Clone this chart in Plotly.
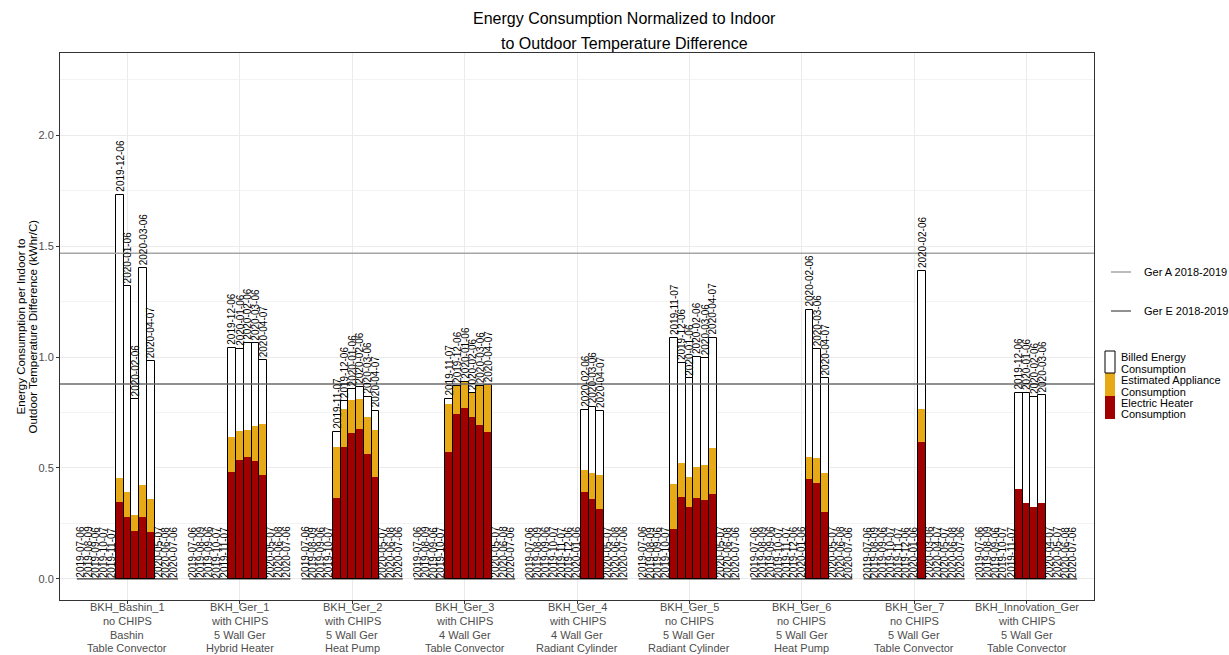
import plotly.graph_objects as go

# ---- data ---------------------------------------------------------------
sites = [
    ["BKH_Bashin_1", "no CHIPS", "Bashin", "Table Convector"],
    ["BKH_Ger_1", "with CHIPS", "5 Wall Ger", "Hybrid Heater"],
    ["BKH_Ger_2", "with CHIPS", "5 Wall Ger", "Heat Pump"],
    ["BKH_Ger_3", "with CHIPS", "4 Wall Ger", "Table Convector"],
    ["BKH_Ger_4", "with CHIPS", "4 Wall Ger", "Radiant Cylinder"],
    ["BKH_Ger_5", "no CHIPS", "5 Wall Ger", "Radiant Cylinder"],
    ["BKH_Ger_6", "no CHIPS", "5 Wall Ger", "Heat Pump"],
    ["BKH_Ger_7", "no CHIPS", "5 Wall Ger", "Table Convector"],
    ["BKH_Innovation_Ger", "with CHIPS", "5 Wall Ger", "Table Convector"],
]

months = ["2019-07-06", "2019-08-09", "2019-09-06", "2019-10-07", "2019-11-07",
          "2019-12-06", "2020-01-06", "2020-02-06", "2020-03-06", "2020-04-07",
          "2020-05-07", "2020-06-08", "2020-07-06"]

# billed energy per month (kWhr/C), one row per site
billed = [
    [0, 0, 0, 0, 0, 1.730, 1.320, 0.810, 1.400, 0.980, 0, 0, 0],
    [0, 0, 0, 0, 0, 1.042, 1.036, 1.062, 1.062, 0.986, 0, 0, 0],
    [0, 0, 0, 0, 0.664, 0.803, 0.855, 0.866, 0.821, 0.758, 0, 0, 0],
    [0, 0, 0, 0, 0.811, 0.869, 0.887, 0.839, 0.869, 0.872, 0, 0, 0],
    [0, 0, 0, 0, 0, 0, 0, 0.761, 0.776, 0.758, 0, 0, 0],
    [0, 0, 0, 0, 1.087, 0.971, 0.904, 1.001, 0.994, 1.087, 0, 0, 0],
    [0, 0, 0, 0, 0, 0, 0, 1.212, 1.036, 0.904, 0, 0, 0],
    [0, 0, 0, 0, 0, 0, 0, 1.387, 0, 0, 0, 0, 0],
    [0, 0, 0, 0, 0, 0.839, 0.836, 0.821, 0.827, 0, 0, 0, 0],
]

# electric heater consumption per month
heater = [
    [0, 0, 0, 0, 0, 0.345, 0.281, 0.215, 0.280, 0.210, 0, 0, 0],
    [0, 0, 0, 0, 0, 0.482, 0.535, 0.550, 0.532, 0.468, 0, 0, 0],
    [0, 0, 0, 0, 0.363, 0.593, 0.659, 0.676, 0.563, 0.461, 0, 0, 0],
    [0, 0, 0, 0, 0.571, 0.743, 0.769, 0.728, 0.694, 0.664, 0, 0, 0],
    [0, 0, 0, 0, 0, 0, 0, 0.393, 0.359, 0.315, 0, 0, 0],
    [0, 0, 0, 0, 0.225, 0.371, 0.323, 0.363, 0.356, 0.383, 0, 0, 0],
    [0, 0, 0, 0, 0, 0, 0, 0.449, 0.431, 0.300, 0, 0, 0],
    [0, 0, 0, 0, 0, 0, 0, 0.618, 0, 0, 0, 0, 0],
    [0, 0, 0, 0, 0, 0.405, 0.344, 0.323, 0.344, 0, 0, 0, 0],
]

# estimated appliance consumption per month (stacked above the heater)
appliance = [
    [0, 0, 0, 0, 0, 0.109, 0.112, 0.073, 0.143, 0.150, 0, 0, 0],
    [0, 0, 0, 0, 0, 0.156, 0.130, 0.121, 0.157, 0.229, 0, 0, 0],
    [0, 0, 0, 0, 0.233, 0.173, 0.147, 0.136, 0.165, 0.210, 0, 0, 0],
    [0, 0, 0, 0, 0.217, 0.126, 0.118, 0.111, 0.175, 0.208, 0, 0, 0],
    [0, 0, 0, 0, 0, 0, 0, 0.098, 0.117, 0.153, 0, 0, 0],
    [0, 0, 0, 0, 0.203, 0.153, 0.138, 0.143, 0.158, 0.206, 0, 0, 0],
    [0, 0, 0, 0, 0, 0, 0, 0.099, 0.113, 0.176, 0, 0, 0],
    [0, 0, 0, 0, 0, 0, 0, 0.149, 0, 0, 0, 0, 0],
    [0, 0, 0, 0, 0, 0, 0, 0, 0, 0, 0, 0, 0],
]

# 2018-2019 reference levels
ref_names = ["Ger A 2018-2019", "Ger E 2018-2019"]
ref_values = [1.468, 0.878]

# ---- styling ------------------------------------------------------------
FONT = "Liberation Sans, Arial, sans-serif"
RED = "#A00000"
ORANGE = "#E8A917"
REF_COLORS = ["#a6a6a6", "#6b6b6b"]
TICK_GREY = "#4d4d4d"

# panel geometry in pixels (used for paper-referenced legend / titles)
W, H = 1229, 655
PL, PR, PT, PB = 60, 1094, 53, 600


def px_x(px):
    return (px - PL) / (PR - PL)


def px_y(py):
    return (PB - py) / (PB - PT)


n_m = len(months)
dodge = 0.9
bw = dodge / n_m

# bar centres: site index (1-based) plus dodge offset
xs, b_vals, h_vals, ha_vals, labels_x, labels_y, labels_t = [], [], [], [], [], [], []
for s in range(len(sites)):
    for m in range(n_m):
        x = (s + 1) - dodge / 2 + (m + 0.5) * bw
        b = billed[s][m]
        h = heater[s][m]
        a = appliance[s][m]
        labels_x.append(x)
        labels_y.append(max(b, h + a))
        labels_t.append(months[m])
        if b > 0:
            xs.append(x)
            b_vals.append(b)
            h_vals.append(h)
            ha_vals.append(h + a)

fig = go.Figure()

fig.add_trace(go.Bar(x=xs, y=b_vals, width=bw, name="Billed Energy Consumption",
                     marker=dict(color="white", line=dict(width=0))))
fig.add_trace(go.Bar(x=xs, y=ha_vals, width=bw, name="Estimated Appliance Consumption",
                     marker=dict(color=ORANGE, line=dict(width=0))))
fig.add_trace(go.Bar(x=xs, y=h_vals, width=bw, name="Electric Heater Consumption",
                     marker=dict(color=RED, line=dict(width=0))))
# outline of the billed bars drawn over the fills
fig.add_trace(go.Bar(x=xs, y=b_vals, width=bw, showlegend=False, hoverinfo="skip",
                     marker=dict(color="rgba(0,0,0,0)", line=dict(width=1, color="black"))))

# baseline of each site group (months without data sit at zero)
base_x, base_y = [], []
for s in range(len(sites)):
    base_x += [(s + 1) - dodge / 2, (s + 1) + dodge / 2, None]
    base_y += [0, 0, None]
fig.add_trace(go.Scatter(x=base_x, y=base_y, mode="lines", showlegend=False,
                         line=dict(color="black", width=1), hoverinfo="skip"))

# reference levels across the panel
x_lo, x_hi = 0.4, len(sites) + 0.6
for name, val, col in zip(ref_names, ref_values, REF_COLORS):
    fig.add_trace(go.Scatter(x=[x_lo, x_hi], y=[val, val], mode="lines", name=name,
                             line=dict(color=col, width=1.5), showlegend=False))

annotations = []
for x, y, t in zip(labels_x, labels_y, labels_t):
    annotations.append(dict(x=x, y=y, xref="x", yref="y", text=t, showarrow=False,
                            textangle=-90, xanchor="center", yanchor="bottom",
                            yshift=2 if y > 0 else 0, borderpad=0,
                            font=dict(family=FONT, size=10, color="black")))

# category labels under the panel, one line at a time
line_px = [607, 621, 635, 648]
for s, lines in enumerate(sites):
    for py, txt in zip(line_px, lines):
        annotations.append(dict(x=s + 1, y=px_y(py), xref="x", yref="paper",
                                text=txt, showarrow=False, xanchor="center",
                                yanchor="middle", borderpad=0,
                                font=dict(family=FONT, size=11, color=TICK_GREY)))

# title
annotations.append(dict(x=px_x(624), y=px_y(18), xref="paper", yref="paper",
                        text="Energy Consumption Normalized to Indoor", showarrow=False,
                        xanchor="center", yanchor="middle",
                        font=dict(family=FONT, size=16, color="black")))
annotations.append(dict(x=px_x(624), y=px_y(43), xref="paper", yref="paper",
                        text="to Outdoor Temperature Difference", showarrow=False,
                        xanchor="center", yanchor="middle",
                        font=dict(family=FONT, size=16, color="black")))

# y-axis title (two rotated lines)
for px, txt in [(20, "Energy Consumption per Indoor to"),
                (32, "Outdoor Temperature Difference (kWhr/C)")]:
    annotations.append(dict(x=px_x(px), y=px_y(326.5), xref="paper", yref="paper",
                            text=txt, showarrow=False, textangle=-90,
                            xanchor="center", yanchor="middle",
                            font=dict(family=FONT, size=11.5, color="black")))

# legend: reference lines
shapes = []
for py, name, col in zip([272, 311], ref_names, REF_COLORS):
    shapes.append(dict(type="line", xref="paper", yref="paper",
                       x0=px_x(1111), x1=px_x(1131), y0=px_y(py), y1=px_y(py),
                       line=dict(color=col, width=1.5)))
    annotations.append(dict(x=px_x(1142), y=px_y(py), xref="paper", yref="paper",
                            text=name, showarrow=False, xanchor="left", yanchor="middle",
                            font=dict(family=FONT, size=11, color="black")))

# legend: fill keys
keys = [(351, 373, "white"), (373, 396, ORANGE), (396, 419, RED)]
for y0, y1, col in keys:
    shapes.append(dict(type="rect", xref="paper", yref="paper",
                       x0=px_x(1105), x1=px_x(1115), y0=px_y(y1), y1=px_y(y0),
                       fillcolor=col, line=dict(width=0)))
shapes.append(dict(type="rect", xref="paper", yref="paper",
                   x0=px_x(1105), x1=px_x(1115), y0=px_y(373), y1=px_y(351),
                   fillcolor="rgba(0,0,0,0)", line=dict(width=1, color="black")))
legend_lines = [(357, "Billed Energy"), (369, "Consumption"),
                (380, "Estimated Appliance"), (392, "Consumption"),
                (403, "Electric Heater"), (414, "Consumption")]
for py, txt in legend_lines:
    annotations.append(dict(x=px_x(1119), y=px_y(py), xref="paper", yref="paper",
                            text=txt, showarrow=False, xanchor="left", yanchor="middle",
                            font=dict(family=FONT, size=11, color="black")))

fig.update_layout(
    width=W, height=H,
    margin=dict(l=PL, r=W - PR, t=PT, b=H - PB, autoexpand=False),
    barmode="overlay", bargap=0,
    plot_bgcolor="white", paper_bgcolor="white",
    showlegend=False,
    font=dict(family=FONT, color="black"),
    annotations=annotations,
    shapes=shapes,
    xaxis=dict(range=[x_lo, x_hi], tickmode="array", automargin=False,
               tickvals=list(range(1, len(sites) + 1)), showticklabels=False,
               ticks="outside", ticklen=3, tickcolor="#333333",
               showgrid=True, gridcolor="#ebebeb", gridwidth=1,
               showline=True, linecolor="#333333", linewidth=1, mirror=True,
               zeroline=False),
    yaxis=dict(range=[-0.095, 2.37], tickmode="array", automargin=False,
               tickvals=[0, 0.5, 1.0, 1.5, 2.0],
               ticktext=["0.0", "0.5", "1.0", "1.5", "2.0"],
               tickfont=dict(family=FONT, size=11, color=TICK_GREY),
               ticks="outside", ticklen=3, tickcolor="#333333",
               showgrid=True, gridcolor="#ebebeb", gridwidth=1,
               minor=dict(tickvals=[0.25, 0.75, 1.25, 1.75, 2.25], showgrid=True,
                          gridcolor="#f3f3f3", gridwidth=0.5, ticks=""),
               showline=True, linecolor="#333333", linewidth=1, mirror=True,
               zeroline=False),
)

fig.write_html("out.html")
